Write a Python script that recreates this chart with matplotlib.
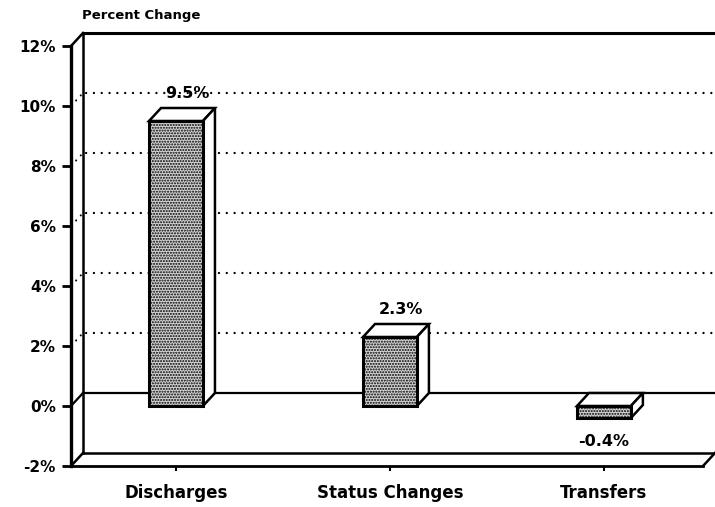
import matplotlib
matplotlib.use("Agg")
import matplotlib.pyplot as plt
import numpy as np
from matplotlib.patches import Polygon, Rectangle
import matplotlib.transforms as mtransforms

# ---- data ----
categories = ["Discharges", "Status Changes", "Transfers"]
values = [9.5, 2.3, -0.4]
value_labels = ["9.5%", "2.3%", "-0.4%"]
yticks = [-2, 0, 2, 4, 6, 8, 10, 12]
ytick_labels = ["-2%", "0%", "2%", "4%", "6%", "8%", "10%", "12%"]
gridvals = [2, 4, 6, 8, 10]
ylabel_text = "Percent Change"

# ---- style ----
W, H, DPI = 715, 507, 100
DX, DY = 12, 13  # depth offset in pixels
BAR_W = 0.252
FONT = "DejaVu Sans"
plt.rcParams["font.family"] = FONT
plt.rcParams["hatch.linewidth"] = 1.0

fig = plt.figure(figsize=(W / DPI, H / DPI), dpi=DPI)
ax = fig.add_axes([71 / W, 41 / H, 632 / W, 420 / H])
xmin, xmax = -0.4907, 2.463
ax.set_xlim(xmin, xmax)
ax.set_ylim(-2, 12)
ax.patch.set_visible(False)

for s in ["top", "right"]:
    ax.spines[s].set_visible(False)
ax.spines["left"].set_linewidth(2.4)
ax.spines["bottom"].set_linewidth(2.0)

ax.set_yticks(yticks)
ax.set_yticklabels(ytick_labels, fontsize=11, fontweight="bold")
ax.tick_params(axis="y", direction="out", length=6.5, width=2, pad=4.5)
ax.set_xticks(range(len(categories)))
ax.set_xticklabels(categories, fontsize=12, fontweight="bold")
ax.tick_params(axis="x", direction="out", length=3.6, width=1.5, pad=9)

ident = mtransforms.IdentityTransform()


def disp(pts, shift=False):
    p = ax.transData.transform(np.asarray(pts, dtype=float))
    if shift:
        p = p + np.array([DX, DY])
    return p


def seg(p0, p1, s0=False, s1=False, **kw):
    a = disp([p0], s0)[0]
    b = disp([p1], s1)[0]
    ax.add_line(plt.Line2D([a[0], b[0]], [a[1], b[1]], transform=ident,
                           color="black", clip_on=False, **kw))


# back wall
seg((xmin, 12), (xmax, 12), True, True, lw=2.2, zorder=1)
seg((xmin, 12), (xmin, 12), False, True, lw=1.8, zorder=1)
seg((xmin, -2), (xmin, 12), True, True, lw=1.8, zorder=1)
# zero plane
seg((xmin, 0), (xmin, 0), False, True, lw=1.6, zorder=1)
seg((xmin, 0), (xmax, 0), True, True, lw=1.6, zorder=1)
# floor
seg((xmin, -2), (xmax, -2), True, True, lw=1.8, zorder=1)
seg((xmin, -2), (xmin, -2), False, True, lw=1.8, zorder=1)
seg((xmax, -2), (xmax, -2), False, True, lw=1.8, zorder=1)
# dotted gridlines on back wall
for g in gridvals:
    seg((xmin, g), (xmax, g), True, True, lw=1.7,
        linestyle=(2, (0.01, 3.3)), dash_capstyle="round", zorder=1)
    seg((xmin, g), (xmin, g), False, True, lw=1.5,
        linestyle=(3, (0.01, 3.3)), dash_capstyle="round", zorder=1)

# bars
for i, v in enumerate(values):
    x0, x1 = i - BAR_W / 2, i + BAR_W / 2
    b, t = min(0, v), max(0, v)
    front = Rectangle((x0, b), BAR_W, t - b, facecolor="#d4d4d4",
                      edgecolor="black", hatch="......", lw=2.2, zorder=3)
    ax.add_patch(front)
    top = np.vstack([disp([(x0, t), (x1, t)]), disp([(x1, t), (x0, t)], True)])
    ax.add_patch(Polygon(top, closed=True, transform=ident, facecolor="white",
                         edgecolor="black", lw=1.8, zorder=2, clip_on=False))
    side = np.vstack([disp([(x1, b), (x1, t)]), disp([(x1, t), (x1, b)], True)])
    ax.add_patch(Polygon(side, closed=True, transform=ident, facecolor="white",
                         edgecolor="black", lw=1.8, zorder=2, clip_on=False))
    if v >= 0:
        ax.annotate(value_labels[i], xy=(i, v), xytext=(8, 19.5),
                    textcoords="offset points", ha="center", va="center",
                    fontsize=11.5, fontweight="bold", zorder=5)
    else:
        ax.annotate(value_labels[i], xy=(i, v), xytext=(0, -17),
                    textcoords="offset points", ha="center", va="center",
                    fontsize=11.5, fontweight="bold", zorder=5)

fig.text(82 / W, 1 - 16 / H, ylabel_text, fontsize=9.5, fontweight="bold",
         ha="left", va="center")

fig.savefig("out.png", dpi=DPI)
